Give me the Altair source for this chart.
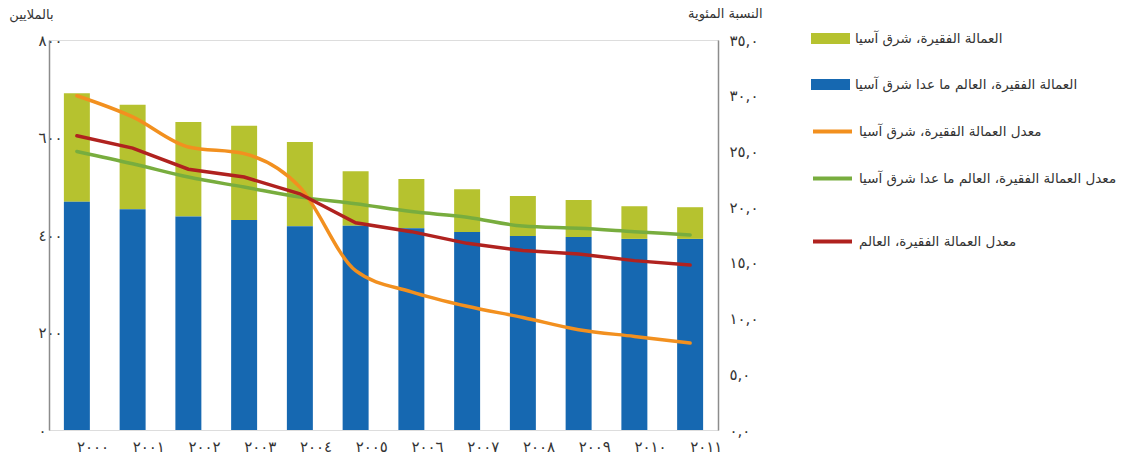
import altair as alt
import pandas as pd

# Years (Arabic-Indic digits)
years = ["٢٠٠٠", "٢٠٠١", "٢٠٠٢", "٢٠٠٣", "٢٠٠٤", "٢٠٠٥",
         "٢٠٠٦", "٢٠٠٧", "٢٠٠٨", "٢٠٠٩", "٢٠١٠", "٢٠١١"]

# Working poor, millions
east_asia_workers = [223, 214, 194, 193, 173, 112, 101, 88, 82, 76, 67, 65]
rest_workers = [468, 453, 438, 431, 418, 419, 414, 406, 398, 396, 392, 392]

# Working poverty rates, percent
east_asia_rate = [30.0, 28.1, 25.4, 24.8, 21.8, 14.3, 12.4, 11.1, 10.1, 9.0, 8.4, 7.8]
rest_rate = [25.0, 23.9, 22.7, 21.8, 20.9, 20.3, 19.6, 19.1, 18.3, 18.1, 17.8, 17.5]
world_rate = [26.4, 25.3, 23.4, 22.7, 21.2, 18.6, 17.8, 16.75, 16.1, 15.8, 15.2, 14.8]

# Series names
bar_names = ["العمالة الفقيرة، شرق آسيا", "العمالة الفقيرة، العالم ما عدا شرق آسيا"]
line_names = ["معدل العمالة الفقيرة، شرق آسيا", "معدل العمالة الفقيرة، العالم ما عدا شرق آسيا"]
world_name = "معدل العمالة الفقيرة، العالم"

bar_colors = ["#B6C22F", "#1668B1"]
line_colors = ["#F2901F", "#78AD3E"]
world_color = "#B0221F"

# Axis ticks and their labels
left_ticks = [0, 200, 400, 600, 800]
left_tick_labels = ["٠", "٢٠٠", "٤٠٠", "٦٠٠", "٨٠٠"]
right_ticks = [0, 5, 10, 15, 20, 25, 30, 35]
right_tick_labels = ["٠,٠", "٥,٠", "١٠,٠", "١٥,٠", "٢٠,٠", "٢٥,٠", "٣٠,٠", "٣٥,٠"]

left_title = "بالملايين"
right_title = "النسبة المئوية"

FONT = "DejaVu Sans"
TEXT = "#333333"
AXIS_GREY = "#8C8C8C"
AXIS_FS = 15
LEGEND_FS = 13.5


def label_expr(ticks, labels):
    pairs = ", ".join(f"'{t}': '{l}'" for t, l in zip(ticks, labels))
    return "{" + pairs + "}[datum.value]"


bars = pd.DataFrame(
    [{"year": y, "series": bar_names[0], "value": v, "rank": 1}
     for y, v in zip(years, east_asia_workers)]
    + [{"year": y, "series": bar_names[1], "value": v, "rank": 0}
       for y, v in zip(years, rest_workers)]
)
lines = pd.DataFrame(
    [{"year": y, "series": line_names[0], "rate": v} for y, v in zip(years, east_asia_rate)]
    + [{"year": y, "series": line_names[1], "rate": v} for y, v in zip(years, rest_rate)]
)
world = pd.DataFrame({"year": years, "series": world_name, "rate": world_rate})

x_enc = alt.X(
    "year:N", sort=years, title=None,
    scale=alt.Scale(paddingInner=0.534, paddingOuter=0.267),
    axis=alt.Axis(labelAlign="left", labelBaseline="top", labelPadding=9,
                  labelAngle=0, domain=False, ticks=False, tickSize=0,
                  labelFontSize=AXIS_FS, labelColor=TEXT, labelFont=FONT),
)

bar_layer = alt.Chart(bars).mark_bar().encode(
    x=x_enc,
    y=alt.Y("value:Q", stack="zero",
            scale=alt.Scale(domain=[0, 800], nice=False),
            axis=alt.Axis(values=left_ticks, labelExpr=label_expr(left_ticks, left_tick_labels),
                          orient="left", grid=False, ticks=False, tickSize=0,
                          labelAlign="left", labelPadding=11, labelFontSize=AXIS_FS,
                          labelColor=TEXT, labelFont=FONT,
                          domainColor=AXIS_GREY, domainWidth=1.5,
                          title=left_title, titleAngle=0, titleX=4, titleY=-26,
                          titleAlign="right", titleBaseline="middle",
                          titleFontWeight="normal", titleFontSize=13,
                          titleColor=TEXT, titleFont=FONT)),
    color=alt.Color("series:N",
                    scale=alt.Scale(domain=bar_names, range=bar_colors),
                    legend=alt.Legend(title=None, orient="none", legendX=762, legendY=-21,
                                      symbolType="M-1,-0.282H1V0.282H-1Z", symbolSize=1521,
                                      symbolStrokeWidth=0, symbolOpacity=1,
                                      rowPadding=20, labelOffset=5, labelLimit=400,
                                      labelFontSize=LEGEND_FS, labelColor=TEXT, labelFont=FONT)),
    order=alt.Order("rank:Q"),
)

line_layer = alt.Chart(lines).mark_line(strokeWidth=3.5, strokeCap="round", interpolate="monotone").encode(
    x=x_enc,
    y=alt.Y("rate:Q", scale=alt.Scale(domain=[0, 35], nice=False),
            axis=alt.Axis(values=right_ticks, labelExpr=label_expr(right_ticks, right_tick_labels),
                          orient="right", grid=False, ticks=False, tickSize=0,
                          labelPadding=11, labelFontSize=AXIS_FS, labelColor=TEXT, labelFont=FONT,
                          domainColor=AXIS_GREY, domainWidth=1.5,
                          title=right_title, titleAngle=0, titleX=44, titleY=-27,
                          titleAlign="right", titleBaseline="middle",
                          titleFontWeight="normal", titleFontSize=13,
                          titleColor=TEXT, titleFont=FONT)),
    stroke=alt.Stroke("series:N",
                      scale=alt.Scale(domain=line_names, range=line_colors),
                      legend=alt.Legend(title=None, orient="none", legendX=762, legendY=70,
                                        symbolType="stroke", symbolSize=1521,
                                        symbolStrokeWidth=4, rowPadding=17, labelOffset=5,
                                        labelLimit=400, labelFontSize=LEGEND_FS, labelColor=TEXT,
                                        labelFont=FONT)),
)

world_layer = alt.Chart(world).mark_line(strokeWidth=3.5, strokeCap="round").encode(
    x=x_enc,
    y=alt.Y("rate:Q", scale=alt.Scale(domain=[0, 35], nice=False), axis=None),
    stroke=alt.Stroke("series:N",
                      scale=alt.Scale(domain=[world_name], range=[world_color]),
                      legend=alt.Legend(title=None, orient="none", legendX=762, legendY=180,
                                        symbolType="stroke", symbolSize=1521,
                                        symbolStrokeWidth=4, labelOffset=5,
                                        labelLimit=400, labelFontSize=LEGEND_FS, labelColor=TEXT,
                                        labelFont=FONT)),
)

chart = alt.layer(bar_layer, line_layer, world_layer).resolve_scale(
    y="independent", stroke="independent"
).properties(
    width=669, height=390,
    autosize=alt.AutoSizeParams(type="none"),
    padding={"left": 49, "top": 40, "right": 405, "bottom": 27},
).configure_view(stroke=None).configure(font=FONT)

chart.save("out.html", embed_options={"renderer": "svg", "actions": False})
